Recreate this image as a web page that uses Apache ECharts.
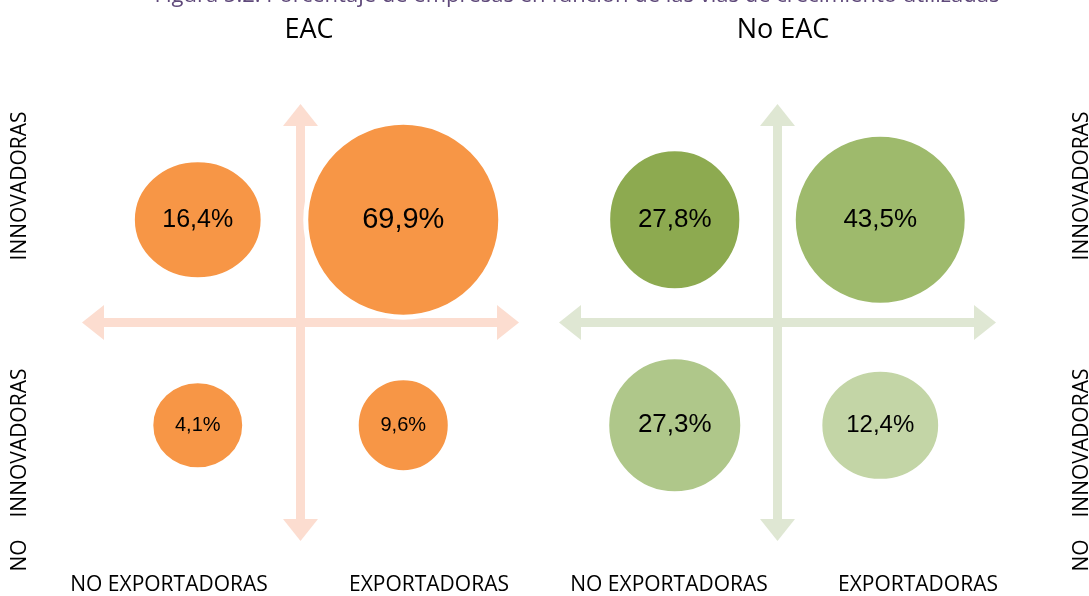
<!DOCTYPE html>
<html>
<head>
<meta charset="utf-8">
<script src="https://cdn.jsdelivr.net/npm/echarts@6/dist/echarts.min.js"></script>
<style>
  html, body { margin: 0; padding: 0; background: #ffffff; }
  #chart { width: 1089px; height: 596px; }
</style>
</head>
<body>
<div id="chart"></div>
<script>
// ---- data ----
const figureTitle = 'Figura 5.2. Porcentaje de empresas en función de las vías de crecimiento utilizadas';
const panelTitles = ['EAC', 'No EAC'];
const exportCategories = ['NO EXPORTADORAS', 'EXPORTADORAS'];        // x: index 0 left, 1 right
const innovationCategories = ['NO    INNOVADORAS', 'INNOVADORAS'];   // y: index 0 bottom, 1 top

// % of firms, ordered by exportCategories
const eacInnovators = [16.4, 69.9];
const eacNonInnovators = [4.1, 9.6];
const noEacInnovators = [27.8, 43.5];
const noEacNonInnovators = [27.3, 12.4];

// ---- styling ----
const FONT_TEXT = '"Open Sans", "Noto Sans", sans-serif';
const FONT_VALUE = '"Liberation Sans", Arial, sans-serif';
const panels = [
  {
    innovators: eacInnovators,
    nonInnovators: eacNonInnovators,
    arrowColor: '#FCDDD0',
    // order: innov/no-exp, innov/exp, non-innov/no-exp, non-innov/exp
    colors: ['#F79646', '#F79646', '#F79646', '#F79646'],
    sizes: [[131, 120], [195, 195], [94, 89], [94, 95]],
    fontSizes: [25, 29, 20, 20],
    grid: { left: 95, top: 117, width: 411, height: 411 }
  },
  {
    innovators: noEacInnovators,
    nonInnovators: noEacNonInnovators,
    arrowColor: '#DFE7D3',
    colors: ['#8DAA50', '#9EBA6C', '#AFC78A', '#C3D5A6'],
    sizes: [[134, 142], [174, 171], [136, 137], [121, 112]],
    fontSizes: [26, 26, 26, 24],
    grid: { left: 572, top: 117, width: 411, height: 411 }
  }
];

const fmt = v => v.toFixed(1).replace('.', ',') + '%';

const grids = [], xAxes = [], yAxes = [], series = [];

panels.forEach((p, i) => {
  grids.push(p.grid);
  const axisLine = {
    onZero: true,
    lineStyle: { color: p.arrowColor, width: 9 },
    symbol: ['triangle', 'triangle'],
    symbolSize: [35, 22],
    symbolOffset: [-2, 2]
  };
  const common = {
    gridIndex: i, type: 'value', min: -1, max: 1,
    axisLine: axisLine,
    axisTick: { show: false }, axisLabel: { show: false }, splitLine: { show: false }
  };
  xAxes.push(Object.assign({}, common));
  yAxes.push(Object.assign({}, common));

  // quadrant points: category index mapped to the centre of its half of the axis
  const rows = [
    [p.innovators, 1],     // INNOVADORAS (top)
    [p.nonInnovators, 0]   // NO INNOVADORAS (bottom)
  ];
  const data = [];
  let k = 0;
  rows.forEach(([vals, yi]) => {
    vals.forEach((v, xi) => {
      data.push({
        value: [xi - 0.5, yi - 0.5, v],
        symbolSize: p.sizes[k],
        itemStyle: { color: p.colors[k], borderColor: '#ffffff', borderWidth: 5, opacity: 1 },
        label: { fontSize: p.fontSizes[k] }
      });
      k++;
    });
  });

  series.push({
    type: 'scatter',
    xAxisIndex: i, yAxisIndex: i,
    symbol: 'circle',
    data: data,
    z: 5,
    itemStyle: { opacity: 1 },
    label: {
      show: true, position: 'inside', color: '#000000',
      fontFamily: FONT_VALUE,
      formatter: d => fmt(d.value[2])
    },
    emphasis: { disabled: true }
  });
});

function txt(text, x, y, size, extra) {
  return Object.assign({
    type: 'text', x: x, y: y, silent: true,
    style: {
      text: text, font: size + 'px ' + FONT_TEXT, fill: '#000000',
      align: 'center', verticalAlign: 'middle'
    }
  }, extra || {});
}

const graphics = [
  {
    type: 'text', x: 577, y: 7, silent: true,
    style: {
      text: figureTitle, font: '22px ' + FONT_TEXT, fill: '#5F497A',
      align: 'center', verticalAlign: 'bottom'
    }
  },
  txt(panelTitles[0], 309, 30, 27),
  txt(panelTitles[1], 783, 30, 27),
  txt(exportCategories[0], 169, 585, 21),
  txt(exportCategories[1], 429, 585, 21),
  txt(exportCategories[0], 669, 585, 21),
  txt(exportCategories[1], 918, 585, 21),
  txt(innovationCategories[1], 20, 186, 21, { rotation: Math.PI / 2 }),
  txt(innovationCategories[0], 20, 470, 21, { rotation: Math.PI / 2 }),
  txt(innovationCategories[1], 1082, 186, 21, { rotation: Math.PI / 2 }),
  txt(innovationCategories[0], 1082, 470, 21, { rotation: Math.PI / 2 })
];

const chart = echarts.init(document.getElementById('chart'), null, { renderer: 'canvas' });
chart.setOption({
  animation: false,
  backgroundColor: '#ffffff',
  grid: grids,
  xAxis: xAxes,
  yAxis: yAxes,
  series: series,
  graphic: graphics
});
</script>
</body>
</html>
